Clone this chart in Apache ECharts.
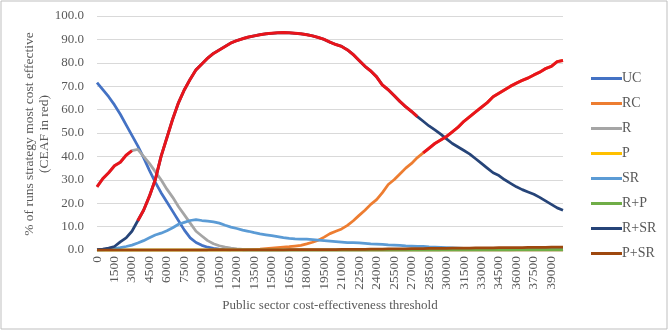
<!DOCTYPE html>
<html>
<head>
<meta charset="utf-8">
<script src="https://cdn.jsdelivr.net/npm/echarts@6/dist/echarts.min.js"></script>
<style>
  html, body { margin: 0; padding: 0; background: #fff; }
  #chart { width: 671px; height: 331px; }
</style>
</head>
<body>
<div id="chart"></div>
<script>
// CEAF chart: share of runs where each strategy is most cost effective

// thresholds 0..40000 step 500
const thresholds = [];
for (let t = 0; t <= 40000; t += 500) thresholds.push(String(t));

const yTicks = [0, 10, 20, 30, 40, 50, 60, 70, 80, 90, 100];
const yTitle = ['% of runs strategy most cost effective', '(CEAF in red)'];

const UC = [71.5, 68.5, 65.5, 62, 58, 53.5, 49, 44.5, 39.5, 34,
  29, 24.5, 20.5, 16.5, 12.5, 8.5, 5.2, 3.2, 2, 1.2,
  0.7, 0.4, 0.2, 0.1, 0.1, 0, 0, 0, 0, 0,
  0, 0, 0, 0, 0, 0, 0, 0, 0, 0,
  0, 0, 0, 0, 0, 0, 0, 0, 0, 0,
  0, 0, 0, 0, 0, 0, 0, 0, 0, 0,
  0, 0, 0, 0, 0, 0, 0, 0, 0, 0,
  0, 0, 0, 0, 0, 0, 0, 0, 0, 0, 0];

const RC = [0, 0, 0, 0, 0, 0, 0, 0, 0, 0,
  0, 0, 0, 0, 0, 0, 0, 0, 0, 0,
  0, 0, 0, 0, 0.1, 0.1, 0.2, 0.3, 0.4, 0.6,
  0.8, 1, 1.2, 1.4, 1.7, 2, 2.6, 3.3, 4.2, 5.5,
  7, 8, 9, 10.5, 12.5, 14.8, 17, 19.5, 21.5, 24.5,
  28, 30, 32.5, 35, 37, 39.5, 41.5, 43.5, 45.5, 47,
  48.5, 50.5, 52.5, 55, 57, 59, 61, 63, 65.5, 67,
  68.5, 70, 71.3, 72.5, 73.5, 74.8, 76, 77.5, 78.5, 80.5, 81];

const R = [27, 30.5, 33, 36, 37.5, 40.5, 42.5, 43, 40, 37,
  33.5, 30, 26, 22.5, 18.5, 15, 11.5, 8, 6, 4,
  2.7, 1.8, 1.2, 0.8, 0.5, 0.3, 0.2, 0.1, 0, 0,
  0, 0, 0, 0, 0, 0, 0, 0, 0, 0,
  0, 0, 0, 0, 0, 0, 0, 0, 0, 0,
  0, 0, 0, 0, 0, 0, 0, 0, 0, 0,
  0, 0, 0, 0, 0, 0, 0, 0, 0, 0,
  0, 0, 0, 0, 0, 0, 0, 0, 0, 0, 0];

const P = [0, 0, 0, 0, 0, 0, 0, 0, 0, 0,
  0, 0, 0, 0, 0, 0, 0, 0, 0, 0,
  0, 0, 0, 0, 0, 0, 0, 0, 0, 0,
  0, 0, 0, 0, 0, 0, 0, 0, 0, 0,
  0, 0, 0, 0, 0, 0, 0, 0, 0, 0,
  0, 0, 0, 0, 0, 0, 0, 0, 0, 0,
  0, 0, 0, 0, 0, 0, 0, 0, 0, 0,
  0, 0, 0, 0, 0, 0, 0, 0, 0, 0, 0];

const SR = [0, 0.1, 0.3, 0.6, 1, 1.5, 2.1, 3, 4, 5.2,
  6.4, 7.2, 8.2, 9.5, 11, 11.8, 12.6, 13, 12.6, 12.3,
  12, 11.5, 10.6, 9.8, 9.2, 8.5, 8, 7.4, 6.9, 6.5,
  6.1, 5.7, 5.3, 5, 4.8, 4.7, 4.6, 4.4, 4.2, 4,
  3.8, 3.6, 3.4, 3.2, 3.1, 3, 2.8, 2.6, 2.5, 2.4,
  2.2, 2.1, 2, 1.8, 1.7, 1.6, 1.5, 1.3, 1.2, 1.1,
  1, 0.9, 0.8, 0.7, 0.6, 0.5, 0.5, 0.4, 0.4, 0.4,
  0.3, 0.3, 0.3, 0.3, 0.3, 0.3, 0.3, 0.3, 0.3, 0.3, 0.3];

const RP = [0, 0, 0, 0, 0, 0, 0, 0, 0, 0,
  0, 0, 0, 0, 0, 0, 0, 0, 0, 0,
  0, 0, 0, 0, 0, 0, 0, 0, 0, 0,
  0, 0, 0, 0, 0, 0, 0, 0, 0, 0,
  0, 0, 0, 0, 0, 0, 0, 0, 0, 0,
  0, 0, 0, 0, 0, 0, 0, 0, 0, 0,
  0.1, 0.1, 0.1, 0.1, 0.1, 0.1, 0.1, 0.1, 0.1, 0.1,
  0.1, 0.1, 0.2, 0.2, 0.2, 0.2, 0.2, 0.2, 0.2, 0.2, 0.2];

const RSR = [0.2, 0.4, 0.8, 1.5, 3.5, 5.2, 8, 12.5, 17, 23,
  30, 40, 48, 56, 63, 68.5, 73, 77, 79.5, 82,
  84, 85.5, 87, 88.5, 89.5, 90.3, 91, 91.5, 92, 92.4,
  92.6, 92.8, 92.9, 92.8, 92.6, 92.4, 92, 91.5, 90.8, 90,
  88.8, 87.8, 87, 85.5, 83.5, 81, 78.5, 76.5, 74, 70.5,
  68.5, 66, 63.5, 61.2, 59.2, 57, 55, 53, 51.3, 49.5,
  47.5, 45.5, 44, 42.5, 41, 39, 37, 35, 33, 31.8,
  30, 28.5, 27, 25.8, 24.8, 23.8, 22.5, 21, 19.5, 18, 17];

const PSR = [0, 0, 0, 0, 0, 0, 0, 0, 0, 0,
  0, 0, 0, 0, 0, 0, 0, 0, 0, 0,
  0.1, 0.1, 0.1, 0.1, 0.1, 0.1, 0.1, 0.1, 0.1, 0.1,
  0.1, 0.1, 0.1, 0.2, 0.2, 0.2, 0.2, 0.2, 0.2, 0.2,
  0.2, 0.2, 0.3, 0.3, 0.3, 0.3, 0.3, 0.4, 0.4, 0.4,
  0.5, 0.5, 0.5, 0.5, 0.6, 0.6, 0.6, 0.7, 0.7, 0.7,
  0.7, 0.8, 0.8, 0.8, 0.8, 0.9, 0.9, 0.9, 0.9, 1,
  1, 1, 1, 1, 1.1, 1.1, 1.1, 1.1, 1.2, 1.2, 1.2];

// which strategy sits on the frontier, by category index range
const ceafRanges = [
  { from: 0, to: 6, values: R },
  { from: 7, to: 55, values: RSR },
  { from: 56, to: 80, values: RC }
];

const names = ['UC', 'RC', 'R', 'P', 'SR', 'R+P', 'R+SR', 'P+SR'];
const colors = ['#4472C4', '#ED7D31', '#A5A5A5', '#FFC000', '#5B9BD5', '#70AD47', '#264478', '#9E480E'];
const seriesData = [UC, RC, R, P, SR, RP, RSR, PSR];

const font = 'Liberation Serif, Times New Roman, serif';
const textColor = '#595959';

const series = names.map((n, i) => ({
  name: n,
  type: 'line',
  symbol: 'none',
  data: seriesData[i],
  lineStyle: { color: colors[i], width: 2.75 },
  itemStyle: { color: colors[i] },
  z: 2 + i
}));

ceafRanges.forEach(seg => {
  series.push({
    name: 'CEAF',
    type: 'line',
    symbol: 'none',
    data: seg.values.map((v, i) => (i >= seg.from && i <= seg.to ? v : null)),
    lineStyle: { color: '#E8141B', width: 3 },
    itemStyle: { color: '#E8141B' },
    z: 20
  });
});

const chart = echarts.init(document.getElementById('chart'));
chart.setOption({
  backgroundColor: '#fff',
  animation: false,
  graphic: [
    {
      type: 'rect',
      shape: { x: 1, y: 1, width: 666, height: 328 },
      style: { fill: 'none', stroke: '#bfbfbf', lineWidth: 1 },
      z: -1
    },
    // y axis title, two rotated lines
    {
      type: 'text', x: 29, y: 134, rotation: Math.PI / 2,
      style: { text: yTitle[0], align: 'center', verticalAlign: 'middle', fontFamily: font, fontSize: 13.5, fill: textColor }
    },
    {
      type: 'text', x: 44, y: 134, rotation: Math.PI / 2,
      style: { text: yTitle[1], align: 'center', verticalAlign: 'middle', fontFamily: font, fontSize: 13.5, fill: textColor }
    }
  ],
  grid: { left: 97, right: 108, top: 16, bottom: 81 },
  legend: {
    data: names,
    orient: 'vertical',
    left: 586,
    top: 66,
    icon: 'rect',
    itemWidth: 31,
    itemHeight: 3,
    itemGap: 10,
    textStyle: { fontFamily: font, fontSize: 14, color: textColor, lineHeight: 15, padding: [0, 0, 0, -5] }
  },
  xAxis: {
    type: 'category',
    data: thresholds,
    boundaryGap: false,
    name: 'Public sector cost-effectiveness threshold',
    nameLocation: 'middle',
    nameGap: 49,
    nameTextStyle: { fontFamily: font, fontSize: 13, color: textColor },
    axisLine: { show: true, lineStyle: { color: '#d9d9d9', width: 1 } },
    axisTick: { show: false },
    axisLabel: {
      interval: 2,
      rotate: 90,
      fontFamily: font,
      fontSize: 13.5,
      color: textColor,
      margin: 6
    },
    splitLine: { show: false }
  },
  yAxis: {
    type: 'value',
    min: yTicks[0],
    max: yTicks[yTicks.length - 1],
    interval: 10,
    axisLine: { show: false },
    axisTick: { show: false },
    axisLabel: {
      fontFamily: font,
      fontSize: 13,
      color: textColor,
      margin: 13,
      formatter: v => v.toFixed(1)
    },
    splitLine: { lineStyle: { color: '#d9d9d9', width: 1 } }
  },
  series: series
});
</script>
</body>
</html>
